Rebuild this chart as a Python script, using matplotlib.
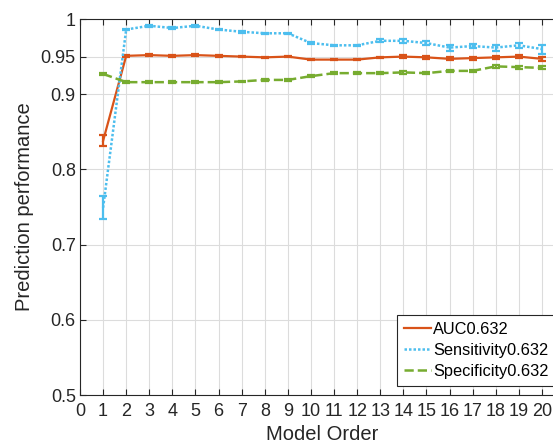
import matplotlib.pyplot as plt
import numpy as np

plt.rcParams['font.family'] = ['Liberation Sans', 'DejaVu Sans']

order = np.arange(1, 21)
auc = [0.838, 0.951, 0.952, 0.951, 0.952, 0.951, 0.950, 0.949, 0.950, 0.946,
       0.946, 0.946, 0.949, 0.950, 0.949, 0.947, 0.948, 0.949, 0.950, 0.947]
auc_err = [0.0075, 0.001, 0.001, 0.001, 0.001, 0.001, 0.001, 0.001, 0.001, 0.001,
           0.001, 0.001, 0.001, 0.002, 0.002, 0.002, 0.002, 0.002, 0.002, 0.003]
sens = [0.749, 0.986, 0.991, 0.988, 0.991, 0.986, 0.983, 0.981, 0.981, 0.968,
        0.965, 0.965, 0.971, 0.971, 0.968, 0.962, 0.964, 0.962, 0.965, 0.960]
sens_err = [0.015, 0.001, 0.001, 0.001, 0.001, 0.001, 0.001, 0.001, 0.001, 0.001,
            0.001, 0.001, 0.002, 0.003, 0.003, 0.004, 0.003, 0.004, 0.003, 0.006]
spec = [0.927, 0.916, 0.916, 0.916, 0.916, 0.916, 0.917, 0.919, 0.919, 0.924,
        0.928, 0.928, 0.928, 0.929, 0.928, 0.931, 0.931, 0.937, 0.936, 0.935]
spec_err = [0.001, 0.001, 0.001, 0.001, 0.001, 0.001, 0.001, 0.001, 0.001, 0.001,
            0.001, 0.001, 0.001, 0.002, 0.001, 0.001, 0.001, 0.002, 0.002, 0.002]

fig = plt.figure(figsize=(5.53, 4.48), dpi=100)
ax = fig.add_axes([80/553, 53/448, 485/553, 376/448])

e1 = ax.errorbar(order, auc, yerr=auc_err, color='#D95319', lw=1.6, capsize=3,
                 elinewidth=1.6, capthick=1.6)
e2 = ax.errorbar(order, sens, yerr=sens_err, color='#4DBEEE', lw=1.8, ls=(0, (1, 0.8)),
                 capsize=3, elinewidth=1.6, capthick=1.6)
e3 = ax.errorbar(order, spec, yerr=spec_err, color='#77AC30', lw=1.8, ls='--', capsize=3,
                 elinewidth=1.6, capthick=1.6)

ax.set_xlim(0, 21)
ax.set_ylim(0.5, 1)
ax.set_xticks(range(0, 21))
ax.set_yticks([0.5, 0.6, 0.7, 0.8, 0.9, 0.95, 1])
ax.set_yticklabels(['0.5', '0.6', '0.7', '0.8', '0.9', '0.95', '1'])
ax.tick_params(direction='in', labelsize=13, length=4, color='#262626',
               top=True, right=True, labelcolor='#262626', pad=3)
ax.tick_params(axis='x', pad=6)
ax.grid(True, color='#dcdcdc', lw=0.8)
for s in ax.spines.values():
    s.set_color('#262626')
    s.set_linewidth(0.8)

ax.set_xlabel('Model Order', fontsize=14.5, color='#262626', labelpad=3)
ax.set_ylabel('Prediction performance', fontsize=14.5, color='#262626', labelpad=5)

leg = ax.legend([e1.lines[0], e2.lines[0], e3.lines[0]],
                ['AUC0.632', 'Sensitivity0.632', 'Specificity0.632'],
                loc='lower left', bbox_to_anchor=(317/485, 9/376), fontsize=11.8,
                frameon=True, fancybox=False, edgecolor='#262626', framealpha=1,
                handlelength=1.6, handletextpad=0.15, borderpad=0.45, labelspacing=0.35,
                borderaxespad=0)
leg.get_frame().set_linewidth(0.8)

fig.savefig('out.png', dpi=100)
